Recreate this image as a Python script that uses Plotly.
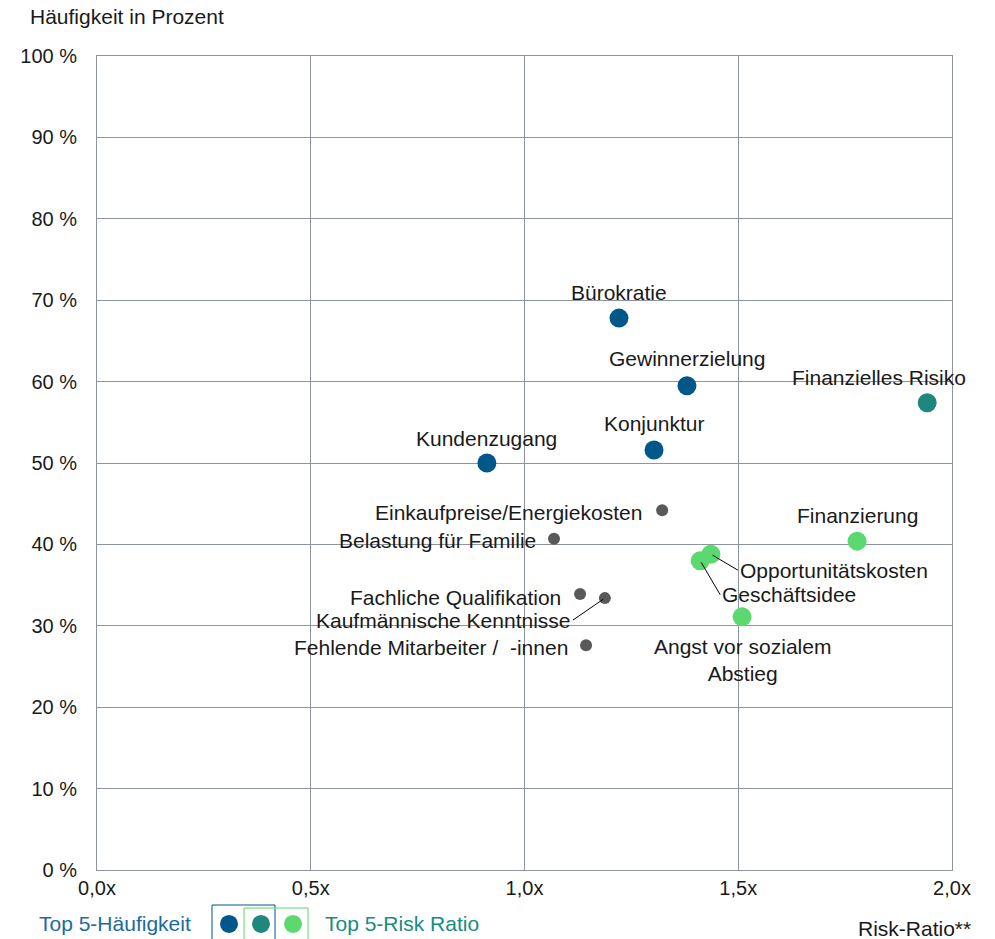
import plotly.graph_objects as go

# Top 5 by frequency
freq_names = ["Bürokratie", "Gewinnerzielung", "Konjunktur", "Kundenzugang"]
freq_rr = [1.221, 1.380, 1.303, 0.912]
freq_pct = [67.8, 59.5, 51.6, 50.0]

# in both top-5 groups
both_names = ["Finanzielles Risiko"]
both_rr = [1.942]
both_pct = [57.4]

# Top 5 by risk ratio
risk_names = ["Finanzierung", "Opportunitätskosten", "Geschäftsidee", "Angst vor sozialem<br>Abstieg"]
risk_rr = [1.778, 1.436, 1.411, 1.509]
risk_pct = [40.4, 38.8, 38.0, 31.1]

# remaining factors
other_names = ["Einkaufpreise/Energiekosten", "Belastung für Familie", "Fachliche Qualifikation",
               "Kaufmännische Kenntnisse", "Fehlende Mitarbeiter /  -innen"]
other_rr = [1.322, 1.069, 1.130, 1.188, 1.144]
other_pct = [44.2, 40.7, 33.9, 33.4, 27.6]

x_ticks = [0, 0.5, 1.0, 1.5, 2.0]
x_labels = ["0,0x", "0,5x", "1,0x", "1,5x", "2,0x"]
y_ticks = list(range(0, 101, 10))
y_labels = [f"{v} %" for v in y_ticks]

BLUE = "#00578A"
TEAL = "#1F877E"
GREEN = "#5BD86E"
GRAY = "#595959"
FONT = "Liberation Sans, Arial, sans-serif"
TXT = "#1a1a1a"
FS = 21

fig = go.Figure()
fig.add_trace(go.Scatter(x=other_rr, y=other_pct, mode="markers",
                         marker=dict(size=12, color=GRAY)))
fig.add_trace(go.Scatter(x=freq_rr, y=freq_pct, mode="markers",
                         marker=dict(size=19, color=BLUE)))
fig.add_trace(go.Scatter(x=risk_rr, y=risk_pct, mode="markers",
                         marker=dict(size=19, color=GREEN)))
fig.add_trace(go.Scatter(x=both_rr, y=both_pct, mode="markers",
                         marker=dict(size=19, color=TEAL)))

# label placement: (xshift, yshift, xanchor) in pixels
plain = {
    "Bürokratie": (0, 26, "center"),
    "Gewinnerzielung": (0, 27, "center"),
    "Konjunktur": (0, 26, "center"),
    "Kundenzugang": (0, 25, "center"),
    "Finanzielles Risiko": (-48, 25, "center"),
    "Finanzierung": (0, 26, "center"),
    "Angst vor sozialem<br>Abstieg": (0, -43, "center"),
    "Einkaufpreise/Energiekosten": (-18, -2, "right"),
    "Belastung für Familie": (-16, -2, "right"),
    "Fachliche Qualifikation": (-17, -3, "right"),
    "Fehlende Mitarbeiter /  -innen": (-16, -2, "right"),
}
# connector labels: (ax, ay, xanchor)
arrows = {
    "Kaufmännische Kenntnisse": (-32, 22, "right"),
    "Opportunitätskosten": (27, 16, "left"),
    "Geschäftsidee": (20, 34, "left"),
}

all_names = freq_names + both_names + risk_names + other_names
all_x = freq_rr + both_rr + risk_rr + other_rr
all_y = freq_pct + both_pct + risk_pct + other_pct
for n, xv, yv in zip(all_names, all_x, all_y):
    if n in plain:
        dx, dy, anc = plain[n]
        fig.add_annotation(x=xv, y=yv, text=n, showarrow=False, xshift=dx, yshift=dy,
                           xanchor=anc, font=dict(size=FS, color=TXT, family=FONT))
    else:
        ax, ay, anc = arrows[n]
        fig.add_annotation(x=xv, y=yv, text=n, showarrow=True, arrowhead=0, arrowwidth=1,
                           arrowcolor="#000000", ax=ax, ay=ay, xanchor=anc, standoff=2,
                           font=dict(size=FS, color=TXT, family=FONT))

# axis titles
fig.add_annotation(xref="paper", yref="paper", x=-0.081, y=1.048, text="Häufigkeit in Prozent",
                   showarrow=False, xanchor="left", yanchor="middle",
                   font=dict(size=FS, color=TXT, family=FONT))
fig.add_annotation(xref="paper", yref="paper", x=1.024, y=-0.0713, text="Risk-Ratio**",
                   showarrow=False, xanchor="right", yanchor="middle",
                   font=dict(size=FS, color=TXT, family=FONT))

# custom legend below the plot
ly = -0.0663
fig.add_annotation(xref="paper", yref="paper", x=-0.0702, y=ly, text="Top 5-Häufigkeit",
                   showarrow=False, xanchor="left", yanchor="middle",
                   font=dict(size=FS, color="#1C6A9E", family=FONT))
fig.add_annotation(xref="paper", yref="paper", x=0.264, y=ly, text="Top 5-Risk Ratio",
                   showarrow=False, xanchor="left", yanchor="middle",
                   font=dict(size=FS, color="#178C80", family=FONT))
fig.add_shape(type="rect", xref="paper", yref="paper", x0=0.1345, x1=0.2082, y0=-0.043, y1=-0.1,
              line=dict(color=BLUE, width=1))
fig.add_shape(type="rect", xref="paper", yref="paper", x0=0.1720, x1=0.2468, y0=-0.0467, y1=-0.1,
              line=dict(color=GREEN, width=1))
for px, col in [(229, BLUE), (261, TEAL), (293, GREEN)]:
    fig.add_shape(type="circle", xref="paper", yref="paper", xsizemode="pixel", ysizemode="pixel",
                  xanchor=(px - 97) / 855, yanchor=ly, x0=-9, x1=9, y0=-9, y1=9,
                  fillcolor=col, line=dict(width=0))

fig.update_xaxes(range=[0, 2], tickvals=x_ticks, ticktext=x_labels, showgrid=True,
                 gridcolor="#8E959E", gridwidth=1, zeroline=False, showline=True,
                 linecolor="#8E959E", mirror=True, ticks="", ticklen=0,
                 tickfont=dict(size=20, color=TXT, family=FONT))
fig.update_yaxes(range=[0, 100], tickvals=y_ticks, ticktext=y_labels, showgrid=True,
                 gridcolor="#8E959E", gridwidth=1, zeroline=False, showline=True,
                 linecolor="#8E959E", mirror=True, ticks="outside", ticklen=15,
                 tickcolor="rgba(0,0,0,0)",
                 tickfont=dict(size=20, color=TXT, family=FONT))

fig.update_layout(width=995, height=939, showlegend=False, plot_bgcolor="white",
                  paper_bgcolor="white", margin=dict(l=97, r=43, t=56, b=69),
                  font=dict(family=FONT))
fig.write_html("out.html", config={"displayModeBar": False},
               post_script="document.body.style.margin='0px';document.body.style.overflow='hidden';")
